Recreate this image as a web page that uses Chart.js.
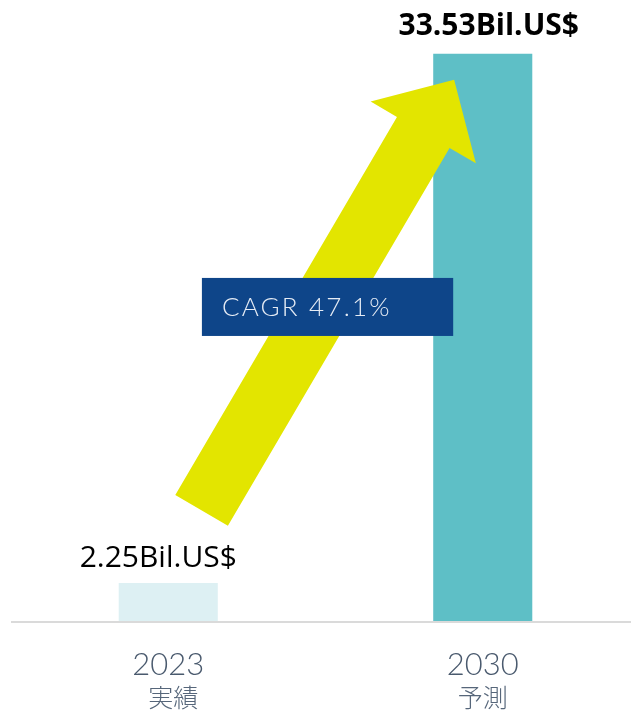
<!DOCTYPE html>
<html>
<head>
<meta charset="utf-8">
<script src="https://cdn.jsdelivr.net/npm/chart.js@4"></script>
<style>
  html, body { margin: 0; padding: 0; background: #ffffff; overflow: hidden; width: 631px; height: 711px; }
  #wrap { width: 640px; height: 711px; }
</style>
</head>
<body>
<div id="wrap"><canvas id="c" width="640" height="711"></canvas></div>
<script>
// ---- data ----
const categories = ['2023', '2030'];
const subLabels = ['実績', '予測'];
const values = [2.25, 33.53];
const valueLabels = ['2.25Bil.US$', '33.53Bil.US$'];
const cagrText = 'CAGR 47.1%';

// ---- styling ----
const barColors = ['#DDF0F3', '#5EBFC6'];
const arrowColor = '#E3E500';
const boxColor = '#0E4589';

const decoPlugin = {
  id: 'deco',
  beforeDatasetsDraw(chart) {
    const { ctx, chartArea } = chart;
    ctx.save();
    ctx.strokeStyle = '#dadada';
    ctx.lineWidth = 2;
    ctx.beginPath();
    ctx.moveTo(chartArea.left, chartArea.bottom + 1);
    ctx.lineTo(chart.width, chartArea.bottom + 1);
    ctx.stroke();
    ctx.restore();
  },
  afterDatasetsDraw(chart) {
    const { ctx, scales } = chart;
    const xs = scales.x, ys = scales.y;
    const meta = chart.getDatasetMeta(0);

    // arrow from the small bar towards the big bar
    const T = { x: xs.getPixelForValue(0.106), y: ys.getPixelForValue(6.54) };
    const P = { x: xs.getPixelForValue(0.909), y: ys.getPixelForValue(31.99) };
    const dx = P.x - T.x, dy = P.y - T.y;
    const len = Math.hypot(dx, dy);
    const d = { x: dx / len, y: dy / len };
    const n = { x: -d.y, y: d.x };
    const hw = 30.5, hh = 61, hl = 61;
    const B = { x: P.x - d.x * hl, y: P.y - d.y * hl };
    const pts = [
      [T.x + n.x * hw, T.y + n.y * hw],
      [B.x + n.x * hw, B.y + n.y * hw],
      [B.x + n.x * hh, B.y + n.y * hh],
      [P.x, P.y],
      [B.x - n.x * hh, B.y - n.y * hh],
      [B.x - n.x * hw, B.y - n.y * hw],
      [T.x - n.x * hw, T.y - n.y * hw]
    ];
    ctx.save();
    ctx.fillStyle = arrowColor;
    ctx.beginPath();
    pts.forEach((p, i) => i ? ctx.lineTo(p[0], p[1]) : ctx.moveTo(p[0], p[1]));
    ctx.closePath();
    ctx.fill();

    // CAGR box
    const bx1 = xs.getPixelForValue(0.107), bx2 = xs.getPixelForValue(0.906);
    const by1 = ys.getPixelForValue(20.28), by2 = ys.getPixelForValue(16.85);
    ctx.fillStyle = boxColor;
    ctx.fillRect(bx1, by1, bx2 - bx1, by2 - by1);
    ctx.fillStyle = '#e6ecf5';
    ctx.font = '300 26px Lato';
    try { ctx.letterSpacing = '2.2px'; } catch (e) {}
    ctx.textAlign = 'left';
    ctx.textBaseline = 'middle';
    ctx.fillText(cagrText, bx1 + 20, (by1 + by2) / 2 + 1);
    try { ctx.letterSpacing = '0px'; } catch (e) {}

    // value labels
    ctx.fillStyle = '#000000';
    ctx.textAlign = 'center';
    ctx.textBaseline = 'alphabetic';
    meta.data.forEach((bar, i) => {
      if (i === 0) {
        ctx.font = '400 30px "Open Sans"';
        ctx.fillText(valueLabels[i], bar.x - 10, bar.y - 16);
      } else {
        ctx.font = '700 30px "Open Sans"';
        ctx.fillText(valueLabels[i], bar.x + 6, bar.y - 19);
      }
    });

    // category labels
    meta.data.forEach((bar, i) => {
      ctx.fillStyle = '#4a5a6e';
      ctx.font = '300 31px Lato';
      ctx.textBaseline = 'alphabetic';
      ctx.fillText(categories[i], bar.x, 675);
      ctx.fillStyle = '#56667a';
      ctx.font = '300 25px "Noto Sans CJK JP"';
      ctx.textBaseline = 'middle';
      ctx.fillText(subLabels[i], bar.x + (i === 0 ? 5 : 0), 697);
    });
    ctx.restore();
  }
};

new Chart(document.getElementById('c'), {
  type: 'bar',
  data: {
    labels: categories,
    datasets: [{
      data: values,
      backgroundColor: barColors,
      borderWidth: 0,
      barPercentage: 0.315,
      categoryPercentage: 1.0
    }]
  },
  options: {
    responsive: false,
    animation: false,
    layout: { padding: { left: 11, right: 0, top: 12, bottom: 90 } },
    plugins: { legend: { display: false }, tooltip: { enabled: false } },
    scales: {
      x: { display: false },
      y: { display: false, min: 0, max: 36 }
    }
  },
  plugins: [decoPlugin]
});
</script>
</body>
</html>
